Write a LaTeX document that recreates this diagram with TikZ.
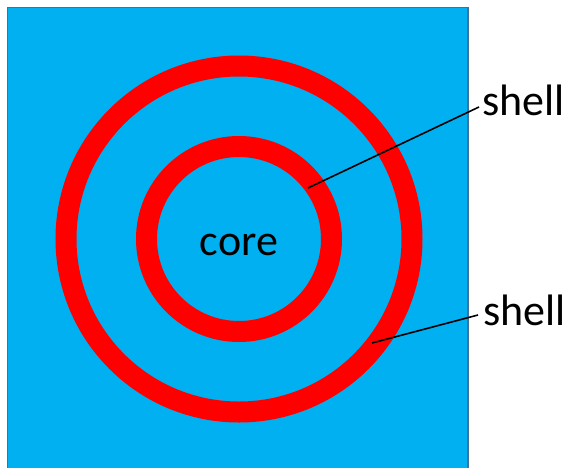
\documentclass[tikz,border=0pt]{standalone}
\usepackage{fontspec}
\setmainfont{Carlito}
\tikzset{
  ring/.style={draw=red, line width=21pt},
  lbl/.style={inner sep=0pt, font=\fontsize{44}{50}\selectfont},
  leader/.style={draw=black, line width=1.6pt}
}
\begin{document}
\begin{tikzpicture}[x=1pt,y=-1pt]
\useasboundingbox (0,0) rectangle (576,467);
\clip (0,0) rectangle (576,467);
\draw[fill={rgb,255:red,0;green,176;blue,240}, draw={rgb,255:red,65;green,113;blue,156}, line width=1.2pt] (7.5,7.5) rectangle (468,480);
\coordinate (c) at (239,239);
\draw[ring] (c) circle[radius=173];
\draw[ring] (c) circle[radius=92.5];
\node[lbl, anchor=base] (core) at (239,255) {core};
\node[lbl, anchor=base west] (s1) at (482,115) {shell};
\node[lbl, anchor=base west] (s2) at (483,325) {shell};
\coordinate (p1) at (308,188);
\coordinate (p2) at (372,343);
\coordinate (q1) at (479,107);
\coordinate (q2) at (478,315);
\draw[leader] (p1) -- (q1);
\draw[leader] (p2) -- (q2);
\end{tikzpicture}
\end{document}
